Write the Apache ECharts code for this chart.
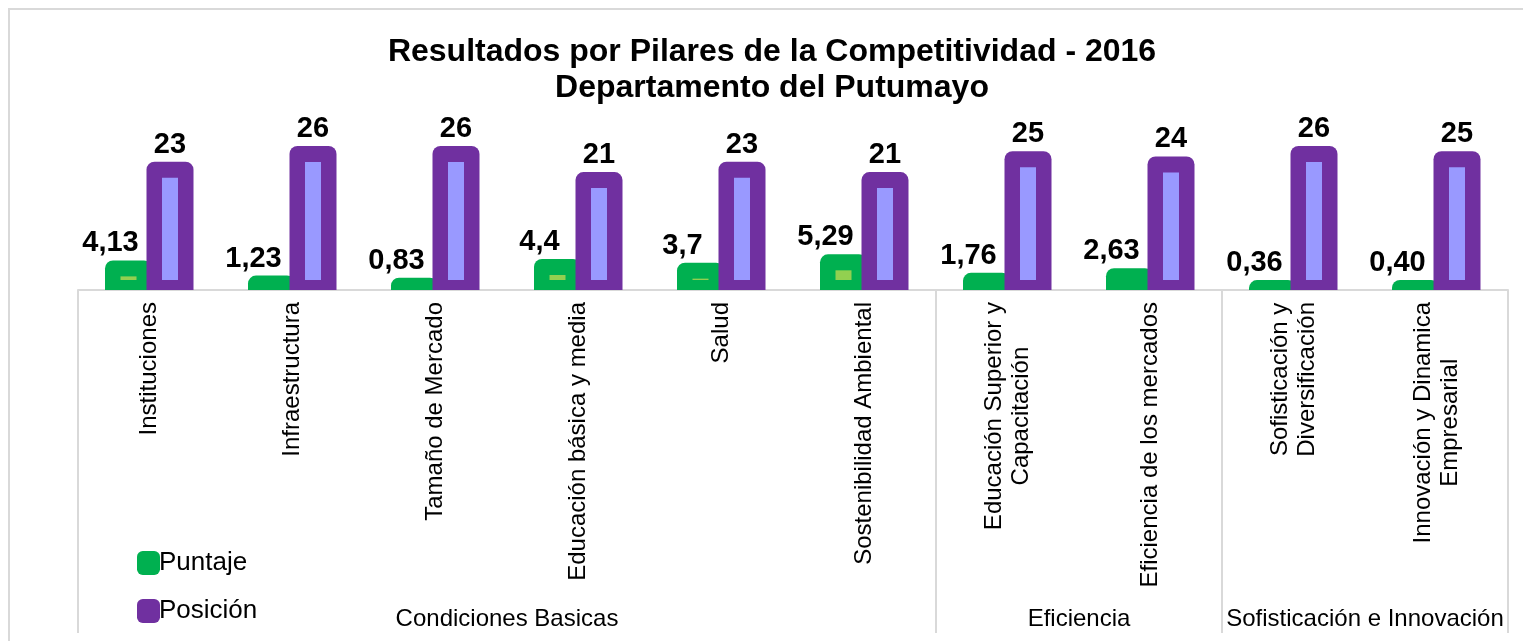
<!DOCTYPE html>
<html>
<head>
<meta charset="utf-8">
<script src="https://cdn.jsdelivr.net/npm/echarts@6/dist/echarts.min.js"></script>
<style>
html,body{margin:0;padding:0;background:#fff;}
#chart{width:1523px;height:641px;}
</style>
</head>
<body>
<div id="chart"></div>
<script>
// ---- data ----
var categories = [
  'Instituciones',
  'Infraestructura',
  'Tamaño de Mercado',
  'Educación básica y media',
  'Salud',
  'Sostenibilidad Ambiental',
  'Educación Superior y\nCapacitación',
  'Eficiencia de los mercados',
  'Sofisticación y\nDiversificación',
  'Innovación y Dinamica\nEmpresarial'
];
var puntaje = [4.13, 1.23, 0.83, 4.4, 3.7, 5.29, 1.76, 2.63, 0.36, 0.40];
var puntajeLabels = ['4,13', '1,23', '0,83', '4,4', '3,7', '5,29', '1,76', '2,63', '0,36', '0,40'];
var posicion = [23, 26, 26, 21, 23, 21, 25, 24, 26, 25];
var posicionLabels = ['23', '26', '26', '21', '23', '21', '25', '24', '26', '25'];
var groups = ['Condiciones Basicas', 'Eficiencia', 'Sofisticación e Innovación'];
var groupSizes = [6, 2, 2];

// ---- derived: boundaries of groups on a secondary axis ----
var boundaryData = [];
for (var b = 0; b <= categories.length; b++) boundaryData.push(String(b));
var boundaryTicks = {0: true};
var groupLabelAt = {};
var acc = 0;
for (var g = 0; g < groups.length; g++) {
  var center = acc + groupSizes[g] / 2;
  groupLabelAt[center] = groups[g];
  acc += groupSizes[g];
  boundaryTicks[acc] = true;
}

var FONT = 'Liberation Sans, Arial, sans-serif';

function makeRender(labels, outerColor, innerColor, dxPx, labelDx) {
  return function (params, api) {
    var i = api.value(0);
    var v = api.value(1);
    var base = api.coord([i, 0]);
    var top = api.coord([i, v]);
    var cx = base[0] + dxPx;
    var outerW = 47, innerW = 16, border = 8;
    var outerTop = top[1] - border;
    var children = [{
      type: 'rect',
      shape: {x: cx - outerW / 2, y: outerTop, width: outerW, height: base[1] - outerTop, r: [8, 8, 0, 0]},
      style: {fill: outerColor}
    }];
    var innerTop = top[1] + border;
    var innerBottom = base[1] - 10;
    if (innerBottom > innerTop) {
      children.push({
        type: 'rect',
        shape: {x: cx - innerW / 2, y: innerTop, width: innerW, height: innerBottom - innerTop},
        style: {fill: innerColor}
      });
    }
    children.push({
      type: 'text',
      x: cx + labelDx,
      y: outerTop - 17,
      z2: 10,
      style: {
        text: labels[params.dataIndex],
        fontSize: 29, fontWeight: 'bold', fontFamily: FONT,
        fill: '#000', align: 'center', verticalAlign: 'middle'
      }
    });
    return {type: 'group', children: children};
  };
}

var chart = echarts.init(document.getElementById('chart'), null, {renderer: 'canvas'});
chart.setOption({
  animation: false,
  backgroundColor: '#fff',
  title: {
    text: 'Resultados por Pilares de la Competitividad - 2016\nDepartamento del Putumayo',
    left: 767, top: 29, textAlign: 'center',
    textStyle: {fontSize: 32, fontWeight: 'bold', fontFamily: FONT, color: '#000', lineHeight: 36}
  },
  legend: {
    orient: 'vertical',
    left: 132, top: 545,
    itemWidth: 23, itemHeight: 24, itemGap: 22,
    icon: 'roundRect',
    textStyle: {fontSize: 26, fontFamily: FONT, color: '#000', padding: [0, 0, 0, -6]},
    data: ['Puntaje', 'Posición']
  },
  graphic: [{
    type: 'rect', silent: true, z: -10,
    shape: {x: 9, y: 9, width: 1560, height: 700},
    style: {fill: 'none', stroke: '#d9d9d9', lineWidth: 2}
  }],
  grid: {left: 78, right: 15, top: 133, bottom: 351, containLabel: false, outerBoundsMode: 'none'},
  xAxis: [{
    type: 'category',
    data: categories,
    axisLine: {show: true, lineStyle: {color: '#d9d9d9', width: 2}},
    axisTick: {show: false},
    axisLabel: {
      interval: 0, rotate: 90, margin: 12,
      fontSize: 24, fontFamily: FONT, color: '#000',
      formatter: function (val) {
        return val.split('\n').map(function (s) { return '{c|' + s + '}'; }).join('\n');
      },
      rich: {c: {align: 'center', fontSize: 24, fontFamily: FONT, color: '#000', lineHeight: 27}}
    }
  }, {
    type: 'category',
    position: 'bottom',
    data: boundaryData,
    boundaryGap: false,
    axisLine: {show: false},
    axisTick: {
      show: true, length: 343,
      interval: function (idx) { return !!boundaryTicks[idx]; },
      lineStyle: {color: '#d9d9d9', width: 2}
    },
    axisLabel: {
      margin: 317,
      fontSize: 24, fontFamily: FONT, color: '#000',
      interval: function (idx) { return groupLabelAt[idx] !== undefined; },
      formatter: function (val, idx) { return groupLabelAt[idx] || ''; }
    }
  }],
  yAxis: {type: 'value', min: 0, max: 30, show: false},
  series: [{
    name: 'Puntaje',
    type: 'custom',
    xAxisIndex: 0,
    itemStyle: {color: '#00B050'},
    encode: {x: 0, y: 1},
    data: puntaje.map(function (v, i) { return [i, v]; }),
    renderItem: makeRender(puntajeLabels, '#00B050', '#92D050', -21, -18)
  }, {
    name: 'Posición',
    type: 'custom',
    xAxisIndex: 0,
    itemStyle: {color: '#7030A0'},
    encode: {x: 0, y: 1},
    data: posicion.map(function (v, i) { return [i, v]; }),
    renderItem: makeRender(posicionLabels, '#7030A0', '#9999FF', 20.5, 0)
  }]
});
</script>
</body>
</html>
